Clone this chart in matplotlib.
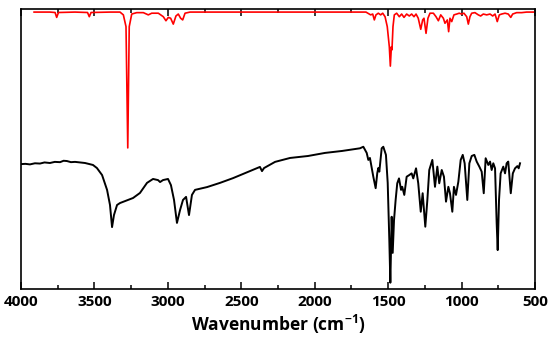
import matplotlib
matplotlib.use("Agg")
import matplotlib.pyplot as plt
from matplotlib.ticker import MultipleLocator

plt.rcParams['font.family'] = ['Open Sans', 'DejaVu Sans']
plt.rcParams['mathtext.fontset'] = 'custom'
plt.rcParams['mathtext.rm'] = 'Open Sans:bold'
plt.rcParams['mathtext.it'] = 'Open Sans:bold'
plt.rcParams['mathtext.bf'] = 'Open Sans:bold'
plt.rcParams['mathtext.default'] = 'regular'

# Black spectrum (sample): wavenumber (cm-1) and transmittance (a.u.)
black_wn = [4000, 3970, 3939, 3905, 3871, 3840, 3803, 3770, 3734, 3710, 3687, 3660,
            3632, 3564, 3510, 3483, 3448, 3414,
            3394, 3380, 3367, 3346, 3326, 3237, 3190, 3142, 3101, 3067, 3053, 3033,
            2999, 2979, 2958, 2938, 2917, 2897, 2876, 2856, 2836, 2815, 2733, 2645,
            2556, 2441, 2373, 2359, 2345, 2270, 2168, 2046, 1930, 1814, 1726, 1692,
            1669, 1646, 1635, 1624, 1612, 1601, 1585, 1574, 1567, 1560, 1544, 1533,
            1515, 1503, 1492, 1485, 1476, 1469, 1460, 1449, 1438, 1426, 1412, 1404,
            1390, 1374, 1356, 1340, 1329, 1310, 1295, 1278, 1265, 1247, 1233, 1220,
            1199, 1181, 1165, 1152, 1135, 1120, 1106, 1090, 1079, 1063, 1052, 1038,
            1022, 1006, 992, 979, 961, 947, 931, 913, 897, 879, 863, 849, 836, 818,
            806, 795, 784, 772, 761, 754, 745, 734, 716, 704, 693, 682, 665, 651,
            636, 620, 611, 602]
black_t = [44.6, 44.7, 44.5, 44.9, 44.8, 45.2, 45.0, 45.4, 45.3, 45.8, 45.7, 45.3,
           45.4, 45.0, 44.3, 43.2, 40.7, 35.4,
           30.0, 22.1, 26.4, 30.0, 30.7, 32.5, 34.3, 37.9, 39.3, 38.9, 38.2, 38.9,
           39.3, 37.1, 31.8, 23.6, 28.2, 31.8, 32.9, 26.4, 33.6, 35.4, 36.4, 37.9,
           39.6, 42.1, 43.6, 42.1, 43.2, 45.4, 46.8, 47.5, 48.6, 49.3, 50.0, 50.25,
           50.8, 48.6, 46.1, 46.8, 43.2, 40.1, 36.0, 41.4, 43.2, 41.9, 50.25, 50.8,
           47.9, 37.9, 17.5, 2.25, 25.8, 12.9, 24.6, 31.8, 37.75, 39.5, 35.4, 36.5,
           33.6, 40.1, 40.7, 41.3, 39.5, 43.1, 37.75, 27.6, 34.2, 22.25, 31.8, 42.5,
           46.1, 36.5, 43.7, 37.75, 42.5, 40.1, 31.2, 36.5, 34.2, 27.6, 36.5, 33.6,
           38.3, 46.1, 47.9, 44.9, 31.8, 44.9, 47.5, 47.9, 45.5, 43.7, 41.9, 34.2,
           46.7, 44.3, 45.5, 42.5, 44.9, 43.1, 23.5, 13.9, 31.8, 41.3, 43.7, 41.3,
           44.9, 45.5, 34.2, 41.3, 43.1, 43.9, 43.1, 44.9]

# Red spectrum (reference): wavenumber (cm-1) and transmittance (a.u.)
red_wn = [3911, 3803, 3768, 3757, 3745, 3632, 3547, 3535, 3523, 3394, 3326, 3303,
          3285, 3273, 3263, 3246, 3212, 3167, 3133, 3110, 3065, 3031, 3013, 2997,
          2981, 2963, 2945, 2929, 2913, 2899, 2883, 2849, 2441, 1692, 1651, 1619,
          1605, 1594, 1583, 1567, 1551, 1537, 1521, 1506, 1492, 1485, 1478, 1474,
          1467, 1458, 1442, 1424, 1408, 1392, 1374, 1356, 1340, 1324, 1310, 1295,
          1278, 1265, 1256, 1242, 1229, 1215, 1192, 1174, 1158, 1142, 1124, 1113,
          1097, 1088, 1079, 1067, 1052, 1033, 1016, 1000, 984, 965, 954, 943, 931,
          909, 886, 870, 852, 829, 806, 788, 772, 757, 743, 727, 704, 682, 665,
          652, 625, 591, 557, 500]
red_t = [98.9, 98.9, 98.75, 97.0, 98.75, 98.9, 98.75, 97.25, 98.75, 98.9, 98.9, 97.9,
         93.7, 50.4, 93.7, 98.2, 98.7, 98.7, 97.9, 98.5, 98.5, 97.25, 95.8, 97.0,
         96.7, 94.6, 97.5, 98.2, 96.7, 96.1, 98.5, 98.9, 98.9, 98.9, 98.9, 97.9,
         98.2, 96.1, 97.9, 98.5, 97.9, 98.5, 97.25, 93.7, 86.5, 79.6, 86.5, 85.4,
         93.7, 97.9, 98.5, 97.25, 98.2, 97.0, 98.2, 97.5, 98.2, 97.25, 98.2, 96.7,
         92.75, 96.1, 96.7, 91.3, 96.7, 98.5, 98.5, 97.25, 95.8, 97.9, 96.7, 94.9,
         96.1, 91.9, 96.7, 95.5, 97.9, 98.2, 98.5, 98.2, 98.5, 97.25, 94.6, 97.25, 98.5,
         98.7, 97.9, 97.5, 98.2, 97.9, 98.2, 97.5, 98.2, 95.5, 97.9, 98.2, 98.5, 98.2, 97.0,
         98.2, 98.7, 98.7, 98.9, 98.9]

x_ticks = [4000, 3500, 3000, 2500, 2000, 1500, 1000, 500]

fig = plt.figure(figsize=(5.5, 3.43), dpi=100)
ax = fig.add_axes([21 / 550, 54 / 343, 514 / 550, 280 / 343])

ax.plot(black_wn, black_t, color='black', lw=1.4, solid_joinstyle='round')
ax.plot(red_wn, red_t, color='#ff0000', lw=1.2, solid_joinstyle='round')

ax.set_xlim(4000, 500)
ax.set_ylim(0, 100)
ax.set_xticks(x_ticks)
ax.set_xticklabels([str(t) for t in x_ticks])
ax.xaxis.set_minor_locator(MultipleLocator(250))
ax.set_yticks([])
ax.tick_params(axis='x', which='both', direction='in', top=True, bottom=True,
               labelsize=11, pad=4, width=1.1)
ax.tick_params(axis='x', which='major', length=5)
ax.tick_params(axis='x', which='minor', length=3)
for lab in ax.get_xticklabels():
    lab.set_fontweight('bold')
for sp in ax.spines.values():
    sp.set_linewidth(1.2)

ax.set_xlabel('Wavenumber (cm$^{-1}$)', fontsize=12.5, fontweight='bold', labelpad=3)

fig.savefig('out.png', dpi=100)
